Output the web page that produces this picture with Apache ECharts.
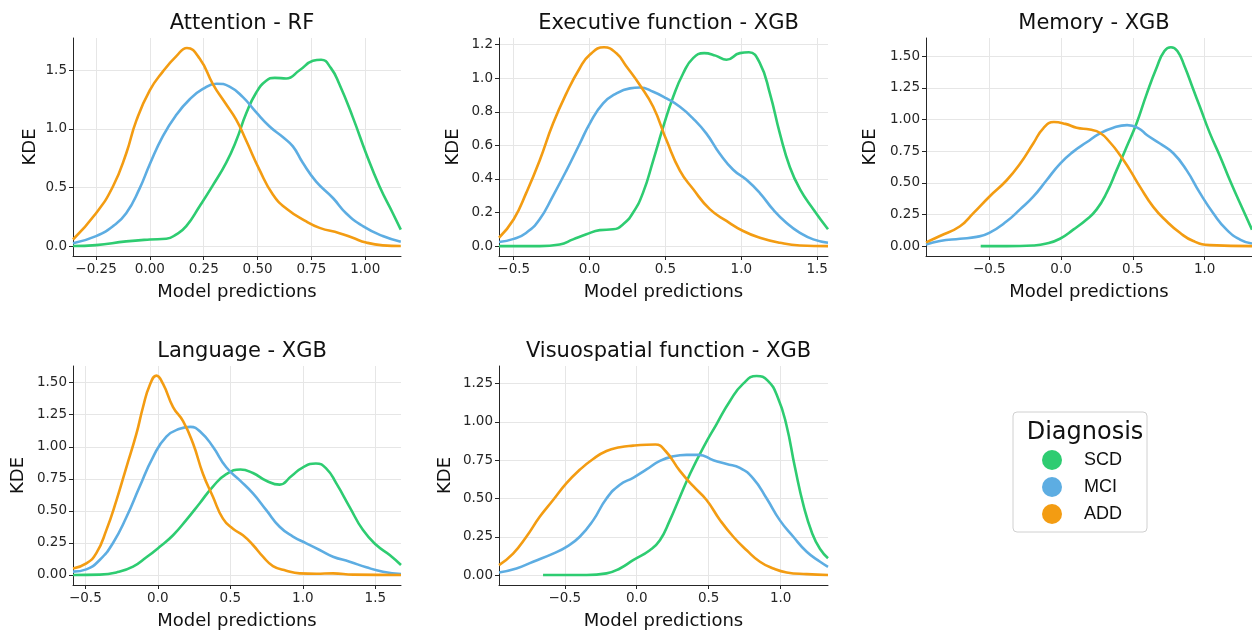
<!DOCTYPE html>
<html>
<head>
<meta charset="utf-8">
<script src="https://cdn.jsdelivr.net/npm/echarts@6/dist/echarts.min.js"></script>
<style>
  html, body { margin: 0; padding: 0; background: #fff; }
  #main { width: 1252px; height: 632px; }
</style>
</head>
<body>
<div id="main"></div>
<script>
// groups and their colours
var groups = ['SCD', 'MCI', 'ADD'];
var groupColors = ['#2ecc71', '#5dade2', '#f39c12'];

var panelTitles = ['Attention - RF', 'Executive function - XGB', 'Memory - XGB', 'Language - XGB', 'Visuospatial function - XGB'];

// tick labels per panel
var xTicks = [
  [-0.25, 0, 0.25, 0.5, 0.75, 1.0],
  [-0.5, 0, 0.5, 1.0, 1.5],
  [-0.5, 0, 0.5, 1.0],
  [-0.5, 0, 0.5, 1.0, 1.5],
  [-0.5, 0, 0.5, 1.0]
];
var yTicks = [
  [0, 0.5, 1.0, 1.5],
  [0, 0.2, 0.4, 0.6, 0.8, 1.0, 1.2],
  [0, 0.25, 0.5, 0.75, 1.0, 1.25, 1.5],
  [0, 0.25, 0.5, 0.75, 1.0, 1.25, 1.5],
  [0, 0.25, 0.5, 0.75, 1.0, 1.25]
];
var xDecimals = [2, 1, 1, 1, 1];
var yDecimals = [1, 1, 2, 2, 2];
var xRanges = [[-0.357, 1.166], [-0.597, 1.571], [-0.941, 1.33], [-0.585, 1.677], [-0.957, 1.329]];
var yRanges = [[-0.085, 1.775], [-0.059, 1.24], [-0.078, 1.643], [-0.078, 1.63], [-0.065, 1.365]];

// KDE curves: [prediction, density]
var attnSCD = [[-0.357,0],[-0.25,0.008],[-0.11,0.04],[0,0.056],[0.076,0.062],[0.123,0.10],[0.169,0.17],[0.231,0.34],[0.293,0.52],[0.354,0.71],[0.401,0.90],[0.447,1.13],[0.494,1.31],[0.54,1.41],[0.58,1.435],[0.633,1.43],[0.695,1.50],[0.757,1.58],[0.795,1.59],[0.84,1.52],[0.88,1.38],[0.942,1.10],[1.004,0.79],[1.066,0.51],[1.128,0.28],[1.165,0.14]];
var attnMCI = [[-0.357,0.023],[-0.25,0.085],[-0.171,0.17],[-0.11,0.28],[-0.048,0.49],[0,0.70],[0.061,0.94],[0.123,1.12],[0.184,1.25],[0.246,1.34],[0.31,1.385],[0.37,1.36],[0.432,1.27],[0.494,1.14],[0.556,1.02],[0.617,0.93],[0.664,0.85],[0.71,0.71],[0.772,0.55],[0.85,0.41],[0.911,0.28],[0.989,0.17],[1.081,0.085],[1.165,0.037]];
var attnADD = [[-0.357,0.056],[-0.25,0.28],[-0.171,0.51],[-0.11,0.79],[-0.063,1.07],[0,1.33],[0.061,1.49],[0.123,1.62],[0.172,1.69],[0.231,1.60],[0.293,1.38],[0.35,1.22],[0.4,1.08],[0.447,0.90],[0.509,0.65],[0.571,0.44],[0.633,0.32],[0.726,0.21],[0.788,0.155],[0.88,0.11],[0.942,0.07],[1.004,0.03],[1.081,0.006],[1.165,0]];

var execSCD = [[-0.597,0],[-0.329,0],[-0.197,0.01],[-0.109,0.04],[-0.021,0.07],[0.067,0.095],[0.155,0.10],[0.221,0.13],[0.287,0.20],[0.353,0.32],[0.419,0.51],[0.485,0.71],[0.551,0.89],[0.617,1.03],[0.682,1.12],[0.755,1.15],[0.83,1.135],[0.902,1.11],[0.99,1.15],[1.05,1.155],[1.122,1.09],[1.188,0.91],[1.254,0.67],[1.32,0.47],[1.386,0.34],[1.474,0.22],[1.571,0.10]];
var execMCI = [[-0.597,0.024],[-0.5,0.043],[-0.416,0.08],[-0.329,0.16],[-0.241,0.30],[-0.153,0.45],[-0.065,0.61],[0.001,0.73],[0.089,0.85],[0.177,0.91],[0.265,0.94],[0.331,0.945],[0.419,0.92],[0.507,0.88],[0.595,0.83],[0.682,0.76],[0.77,0.67],[0.858,0.55],[0.946,0.455],[1.034,0.395],[1.122,0.316],[1.21,0.217],[1.298,0.138],[1.386,0.079],[1.474,0.04],[1.571,0.02]];
var execADD = [[-0.597,0.05],[-0.5,0.16],[-0.416,0.32],[-0.329,0.51],[-0.241,0.73],[-0.153,0.91],[-0.065,1.06],[0.001,1.14],[0.095,1.185],[0.175,1.15],[0.243,1.07],[0.331,0.96],[0.419,0.83],[0.507,0.63],[0.595,0.45],[0.682,0.34],[0.792,0.22],[0.902,0.15],[1.012,0.09],[1.122,0.05],[1.254,0.02],[1.386,0.004],[1.571,0]];

var memSCD = [[-0.56,0],[-0.379,0],[-0.194,0.005],[-0.101,0.02],[-0.008,0.058],[0.085,0.13],[0.178,0.21],[0.248,0.29],[0.317,0.42],[0.387,0.60],[0.457,0.785],[0.526,0.97],[0.596,1.20],[0.666,1.41],[0.72,1.54],[0.765,1.57],[0.81,1.54],[0.86,1.42],[0.92,1.24],[0.967,1.10],[1.037,0.89],[1.107,0.71],[1.176,0.52],[1.246,0.34],[1.33,0.13]];
var memMCI = [[-0.941,0.013],[-0.844,0.04],[-0.704,0.058],[-0.588,0.073],[-0.5,0.105],[-0.379,0.196],[-0.286,0.29],[-0.194,0.39],[-0.101,0.52],[-0.008,0.65],[0.085,0.746],[0.178,0.82],[0.271,0.89],[0.364,0.935],[0.46,0.955],[0.54,0.93],[0.6,0.875],[0.689,0.81],[0.782,0.733],[0.874,0.60],[0.967,0.42],[1.06,0.26],[1.153,0.13],[1.246,0.052],[1.33,0.02]];
var memADD = [[-0.941,0.03],[-0.844,0.08],[-0.704,0.157],[-0.611,0.26],[-0.5,0.39],[-0.379,0.52],[-0.286,0.65],[-0.194,0.81],[-0.124,0.93],[-0.05,0.98],[0.03,0.965],[0.108,0.935],[0.2,0.92],[0.27,0.895],[0.34,0.82],[0.41,0.72],[0.48,0.60],[0.549,0.47],[0.642,0.31],[0.735,0.196],[0.828,0.105],[0.921,0.04],[1.037,0.008],[1.33,0]];

var langSCD = [[-0.585,0],[-0.401,0.003],[-0.286,0.02],[-0.171,0.065],[-0.079,0.138],[0.013,0.22],[0.105,0.31],[0.197,0.43],[0.289,0.56],[0.38,0.69],[0.472,0.786],[0.57,0.823],[0.656,0.795],[0.748,0.735],[0.84,0.705],[0.92,0.77],[1.001,0.84],[1.09,0.87],[1.162,0.83],[1.231,0.714],[1.323,0.53],[1.415,0.35],[1.507,0.234],[1.599,0.156],[1.677,0.078]];
var langMCI = [[-0.585,0.026],[-0.493,0.044],[-0.401,0.117],[-0.309,0.25],[-0.217,0.45],[-0.125,0.69],[-0.033,0.92],[0.059,1.08],[0.151,1.14],[0.225,1.155],[0.3,1.11],[0.38,1.0],[0.472,0.84],[0.564,0.74],[0.656,0.636],[0.748,0.506],[0.84,0.376],[0.932,0.30],[1.024,0.247],[1.116,0.195],[1.208,0.143],[1.323,0.104],[1.438,0.06],[1.553,0.026],[1.677,0.008]];
var langADD = [[-0.585,0.05],[-0.493,0.09],[-0.424,0.17],[-0.355,0.35],[-0.286,0.58],[-0.217,0.84],[-0.148,1.10],[-0.102,1.31],[-0.056,1.48],[-0.01,1.555],[0.036,1.49],[0.105,1.31],[0.174,1.20],[0.243,1.025],[0.311,0.79],[0.38,0.61],[0.449,0.44],[0.518,0.36],[0.587,0.31],[0.656,0.234],[0.725,0.143],[0.794,0.07],[0.886,0.034],[0.978,0.013],[1.093,0.01],[1.208,0.013],[1.346,0.003],[1.677,0]];

var visuSCD = [[-0.651,0],[-0.349,0],[-0.21,0.011],[-0.117,0.043],[-0.025,0.097],[0.091,0.162],[0.161,0.227],[0.23,0.357],[0.3,0.51],[0.37,0.66],[0.463,0.834],[0.555,0.986],[0.648,1.137],[0.74,1.25],[0.833,1.30],[0.91,1.27],[0.98,1.16],[1.04,0.98],[1.1,0.70],[1.16,0.45],[1.22,0.27],[1.274,0.17],[1.329,0.11]];
var visuMCI = [[-0.957,0.017],[-0.836,0.043],[-0.72,0.087],[-0.581,0.14],[-0.488,0.184],[-0.396,0.25],[-0.303,0.357],[-0.21,0.50],[-0.117,0.59],[-0.025,0.635],[0.068,0.69],[0.161,0.745],[0.254,0.775],[0.346,0.785],[0.43,0.785],[0.532,0.75],[0.625,0.725],[0.717,0.70],[0.81,0.63],[0.903,0.50],[0.995,0.357],[1.088,0.25],[1.181,0.152],[1.274,0.087],[1.329,0.054]];
var visuADD = [[-0.957,0.065],[-0.859,0.14],[-0.767,0.25],[-0.674,0.38],[-0.581,0.49],[-0.488,0.60],[-0.396,0.687],[-0.303,0.758],[-0.21,0.81],[-0.117,0.834],[-0.025,0.845],[0.068,0.851],[0.13,0.852],[0.2,0.81],[0.3,0.68],[0.393,0.58],[0.485,0.49],[0.578,0.36],[0.671,0.25],[0.764,0.162],[0.856,0.087],[0.949,0.043],[1.042,0.017],[1.181,0.006],[1.329,0]];

var panelData = [
  [attnSCD, attnMCI, attnADD],
  [execSCD, execMCI, execADD],
  [memSCD, memMCI, memADD],
  [langSCD, langMCI, langADD],
  [visuSCD, visuMCI, visuADD]
];

// layout of the five plot areas (px)
var grids = [
  {left: 73, top: 38, width: 328, height: 218},
  {left: 499, top: 38, width: 329, height: 218},
  {left: 926, top: 38, width: 326, height: 218},
  {left: 73, top: 366, width: 328, height: 219},
  {left: 499, top: 366, width: 329, height: 219}
];
var yNameGaps = [34, 37, 47, 46, 45];

var myChart = echarts.init(document.getElementById('main'));

var fontMain = 'DejaVu Sans';
var ink = '#262626';

function fmt(dec) {
  return function (v) {
    var s = Math.abs(v).toFixed(dec);
    return v < -1e-9 ? '\u2212' + s : s;
  };
}

var titles = [], xAxes = [], yAxes = [], series = [];
grids.forEach(function (g, i) {
  titles.push({
    text: panelTitles[i],
    left: g.left + g.width / 2,
    top: i < 3 ? 8 : 336,
    textAlign: 'center',
    textStyle: {fontFamily: fontMain, fontSize: 21, fontWeight: 'normal', color: '#111'}
  });
  xAxes.push({
    type: 'value', gridIndex: i,
    min: xRanges[i][0], max: xRanges[i][1],
    name: 'Model predictions', nameLocation: 'middle', nameGap: 27,
    nameTextStyle: {fontFamily: fontMain, fontSize: 18, color: '#111'},
    axisLine: {show: true, onZero: false, lineStyle: {color: ink, width: 1}},
    axisTick: {show: true, length: 4, customValues: xTicks[i], lineStyle: {color: ink}},
    axisLabel: {customValues: xTicks[i], formatter: fmt(xDecimals[i]), fontFamily: fontMain, fontSize: 13.5, color: ink, margin: 6},
    splitLine: {show: true, lineStyle: {color: '#e6e6e6', width: 1}}
  });
  yAxes.push({
    type: 'value', gridIndex: i,
    min: yRanges[i][0], max: yRanges[i][1],
    name: 'KDE', nameLocation: 'middle', nameGap: yNameGaps[i],
    nameTextStyle: {fontFamily: fontMain, fontSize: 18, color: '#111'},
    axisLine: {show: true, onZero: false, lineStyle: {color: ink, width: 1}},
    axisTick: {show: true, length: 4, customValues: yTicks[i], lineStyle: {color: ink}},
    axisLabel: {customValues: yTicks[i], formatter: fmt(yDecimals[i]), fontFamily: fontMain, fontSize: 13.5, color: ink, margin: 6},
    splitLine: {show: true, lineStyle: {color: '#e6e6e6', width: 1}}
  });
  groups.forEach(function (name, k) {
    series.push({
      name: name,
      type: 'line',
      xAxisIndex: i, yAxisIndex: i,
      data: panelData[i][k],
      smooth: 0.5,
      showSymbol: false,
      symbol: 'none',
      clip: true,
      silent: true,
      lineStyle: {color: groupColors[k], width: 2.6},
      itemStyle: {color: groupColors[k]},
      z: 3
    });
  });
});

titles.push({
  text: 'Diagnosis',
  left: 1080, top: 416, textAlign: 'center',
  textStyle: {fontFamily: fontMain, fontSize: 24, fontWeight: 'normal', color: '#111'}
});

var option = {
  backgroundColor: '#fff',
  animation: false,
  color: groupColors,
  title: titles,
  grid: grids,
  xAxis: xAxes,
  yAxis: yAxes,
  legend: {
    data: groups,
    orient: 'vertical',
    left: 1042, top: 450,
    padding: 0,
    icon: 'circle',
    itemWidth: 20, itemHeight: 20, itemGap: 7,
    textStyle: {fontFamily: 'Liberation Sans', fontSize: 18, color: '#111', padding: [0, 0, 0, 17]}
  },
  graphic: [{
    type: 'rect',
    shape: {x: 1013, y: 412, width: 134, height: 120, r: 4},
    style: {fill: '#fff', stroke: '#d0d0d0', lineWidth: 1},
    z: -1
  }],
  series: series
};

myChart.setOption(option);
window.addEventListener('resize', function () {
  myChart.resize();
});
</script>
</body>
</html>
